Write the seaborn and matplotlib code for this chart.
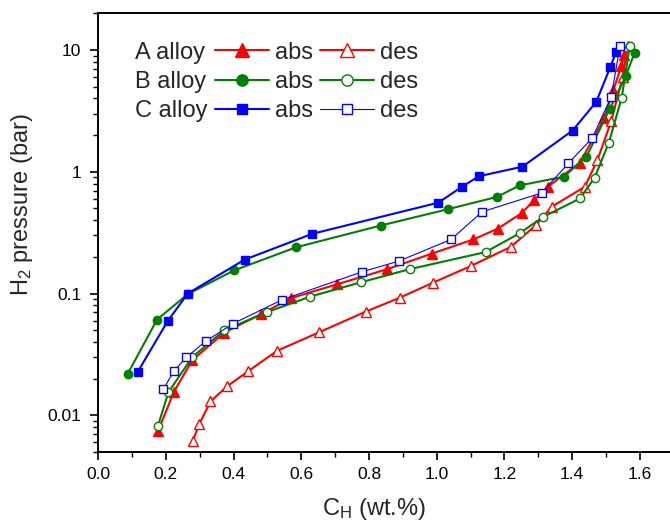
import matplotlib
matplotlib.use("Agg")
import numpy as np
import matplotlib.pyplot as plt
import seaborn as sns
from matplotlib.lines import Line2D
from matplotlib.ticker import FixedLocator, FuncFormatter, LogLocator, NullFormatter, MultipleLocator

# Pressure-composition isotherms (absorption / desorption) for three alloys
A_abs_x = [0.177, 0.224, 0.278, 0.373, 0.482, 0.571, 0.705, 0.852, 0.986, 1.108, 1.180, 1.252, 1.287, 1.328, 1.423, 1.494, 1.521, 1.545, 1.554]
A_abs_y = [0.0074, 0.0156, 0.0283, 0.0478, 0.068, 0.092, 0.119, 0.158, 0.213, 0.278, 0.341, 0.46, 0.585, 0.753, 1.19, 2.74, 4.65, 7.4, 9.1]

A_des_x = [0.279, 0.299, 0.332, 0.381, 0.444, 0.528, 0.652, 0.791, 0.891, 0.988, 1.102, 1.219, 1.293, 1.339, 1.437, 1.474, 1.515, 1.549, 1.564]
A_des_y = [0.0061, 0.0085, 0.013, 0.0173, 0.0231, 0.0338, 0.048, 0.0712, 0.0925, 0.1225, 0.169, 0.242, 0.365, 0.515, 0.753, 1.24, 2.6, 6.0, 10.8]

B_abs_x = [0.088, 0.174, 0.265, 0.402, 0.585, 0.835, 1.032, 1.178, 1.245, 1.375, 1.442, 1.510, 1.558, 1.584]
B_abs_y = [0.022, 0.061, 0.099, 0.155, 0.240, 0.362, 0.492, 0.622, 0.773, 0.91, 1.33, 3.25, 6.1, 9.5]

B_des_x = [0.177, 0.208, 0.278, 0.373, 0.500, 0.627, 0.777, 0.922, 1.144, 1.245, 1.315, 1.423, 1.466, 1.508, 1.546, 1.570]
B_des_y = [0.0082, 0.0155, 0.030, 0.050, 0.0706, 0.0945, 0.124, 0.159, 0.219, 0.313, 0.427, 0.604, 0.893, 1.73, 4.05, 10.8]

C_abs_x = [0.117, 0.206, 0.265, 0.433, 0.632, 1.005, 1.074, 1.125, 1.253, 1.401, 1.471, 1.512, 1.530]
C_abs_y = [0.0227, 0.0596, 0.100, 0.190, 0.309, 0.558, 0.752, 0.92, 1.10, 2.18, 3.75, 7.2, 9.7]

C_des_x = [0.193, 0.224, 0.261, 0.319, 0.399, 0.544, 0.780, 0.889, 1.042, 1.134, 1.310, 1.388, 1.459, 1.515, 1.541]
C_des_y = [0.0164, 0.0231, 0.030, 0.0408, 0.0567, 0.089, 0.151, 0.185, 0.278, 0.469, 0.671, 1.17, 1.89, 4.12, 10.8]

alloy_labels = ["A alloy", "B alloy", "C alloy"]
mode_labels = ["abs", "des"]
x_ticks = [0.0, 0.2, 0.4, 0.6, 0.8, 1.0, 1.2, 1.4, 1.6]
y_ticks = [0.01, 0.1, 1, 10]

RED, GREEN, BLUE = "#ff0000", "#008000", "#0000ff"

sns.set_theme(style="ticks")
plt.rcParams["font.family"] = ["Liberation Sans", "DejaVu Sans"]
plt.rcParams["mathtext.default"] = "regular"

fig = plt.figure(figsize=(6.7, 5.22), dpi=100)
ax = fig.add_axes([0.1463, 0.1341, 0.8537, 0.8404])
ax.set_yscale("log")

series = [
    (A_abs_x, A_abs_y, RED, "^", True, 7.5, 1.5),
    (A_des_x, A_des_y, RED, "^", False, 7.5, 1.5),
    (B_abs_x, B_abs_y, GREEN, "o", True, 6.0, 1.5),
    (B_des_x, B_des_y, GREEN, "o", False, 6.0, 1.5),
    (C_abs_x, C_abs_y, BLUE, "s", True, 5.6, 1.5),
    (C_des_x, C_des_y, BLUE, "s", False, 5.6, 0.8),
]

handles = []
for xs, ys, col, mk, filled, ms, lw in series:
    sns.lineplot(x=xs, y=ys, ax=ax, sort=False, estimator=None, color=col,
                 linewidth=lw, marker=mk, markersize=ms,
                 markerfacecolor=col if filled else "white",
                 markeredgecolor=col, markeredgewidth=1.0)
    handles.append(ax.get_lines()[-1])

ax.set_xlim(0, 1.6886)
ax.set_ylim(0.005, 20)

ax.xaxis.set_major_locator(FixedLocator(x_ticks))
ax.xaxis.set_major_formatter(FuncFormatter(lambda v, p: f"{v:.1f}"))
ax.xaxis.set_minor_locator(MultipleLocator(0.1))
ax.yaxis.set_major_locator(FixedLocator(y_ticks))
ax.yaxis.set_major_formatter(FuncFormatter(lambda v, p: f"{v:g}"))
ax.yaxis.set_minor_locator(LogLocator(base=10, subs=np.arange(2, 10)))
ax.yaxis.set_minor_formatter(NullFormatter())

ax.tick_params(which="major", direction="out", length=6, width=1.2,
               labelsize=12.5, top=False, right=False, colors="black")
ax.tick_params(axis="x", which="major", pad=5)
ax.tick_params(axis="y", which="major", pad=6)
ax.tick_params(which="minor", direction="out", length=3.5, width=1.0,
               top=False, right=False, colors="black")

for side in ["left", "bottom", "top"]:
    ax.spines[side].set_linewidth(1.4)
    ax.spines[side].set_color("black")
ax.spines["right"].set_visible(False)

ax.set_xlabel("C$_H$ (wt.%)", fontsize=17)
ax.set_ylabel("H$_2$ pressure (bar)", fontsize=17)
ax.xaxis.set_label_coords(0.483, -0.100)
ax.yaxis.set_label_coords(-0.11, 0.563)

# Legend: alloy name column, then absorption and desorption handles
blank = [Line2D([], [], linestyle="none", marker="none") for _ in alloy_labels]
leg_handles = blank + [handles[0], handles[2], handles[4]] + [handles[1], handles[3], handles[5]]
leg_labels = alloy_labels + [mode_labels[0]] * 3 + [mode_labels[1]] * 3
ax.legend(leg_handles, leg_labels, ncol=3, frameon=False, fontsize=17,
          handlelength=2.29, handletextpad=0.25, columnspacing=0.3,
          labelspacing=0.31, borderpad=0, borderaxespad=0, markerscale=1.35,
          loc="upper left", bbox_to_anchor=(0.1119, 0.9203),
          bbox_transform=fig.transFigure)

fig.savefig("out.png", dpi=100)
